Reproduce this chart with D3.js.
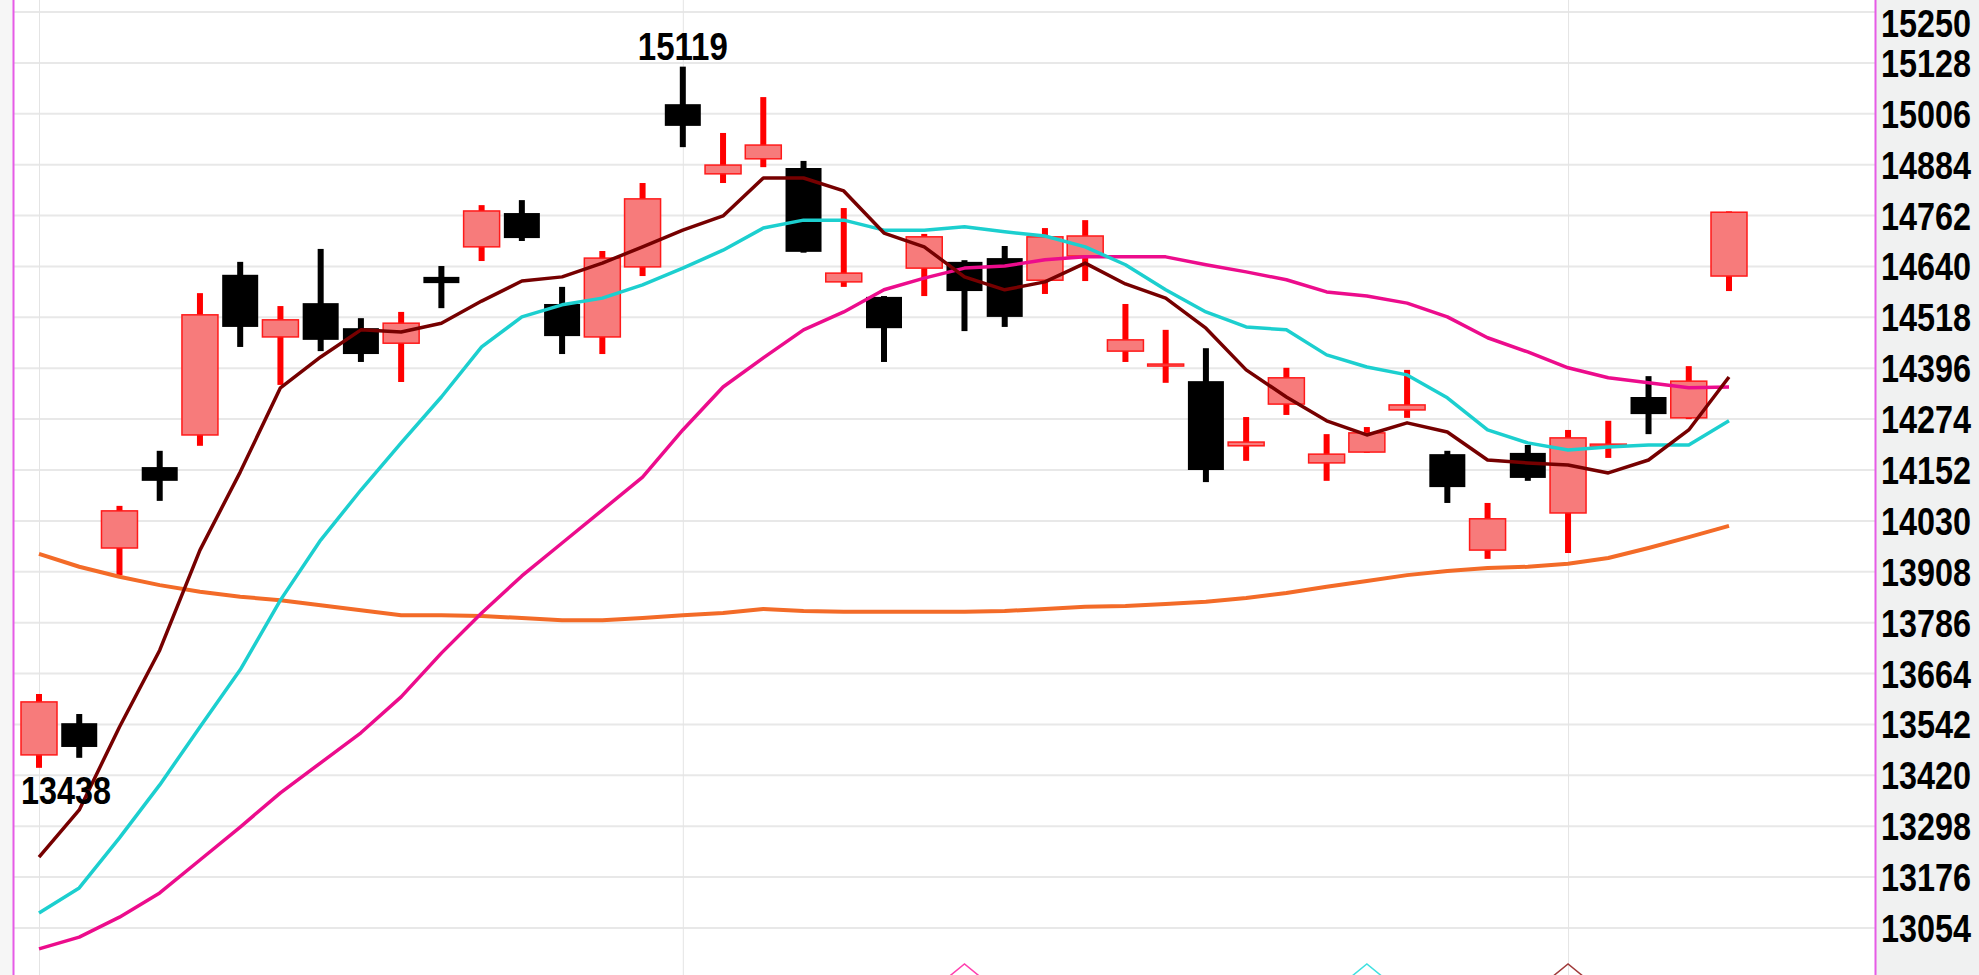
<!DOCTYPE html>
<html>
<head>
<meta charset="utf-8">
<script src="https://cdn.jsdelivr.net/npm/d3@7"></script>
<style>
  html, body { margin: 0; padding: 0; background: #fff; overflow: hidden; }
  svg { display: block; }
</style>
</head>
<body>
<svg id="chart"></svg>
<script>
const WIDTH = 1979;
const HEIGHT = 975;

// daily candles
const opens  = [13469,13545,13965,14159,14236,14620,14471,14552,14492,14456,14615,14687,14768,14550,14471,14639,15029,14862,14898,14876,14603,14567,14636,14651,14660,14607,14665,14437,14404,14365,14210,14310,14169,14195,14296,14190,13960,14193,14049,14210,14327,14277,14617];
const highs  = [13615,13567,14066,14198,14576,14651,14545,14682,14516,14531,14641,14787,14799,14591,14677,14840,15119,14960,15046,14893,14780,14569,14718,14655,14689,14732,14751,14550,14488,14444,14279,14397,14238,14255,14392,14198,14073,14212,14248,14270,14377,14401,14772];
const lows   = [13438,13462,13900,14078,14210,14447,14356,14437,14411,14363,14540,14653,14701,14430,14430,14617,14926,14840,14878,14673,14591,14411,14569,14485,14495,14574,14605,14411,14361,14123,14174,14284,14126,14193,14277,14073,13939,14126,13953,14181,14238,14274,14581];
const closes = [13596,13488,14054,14126,14524,14495,14512,14464,14430,14504,14600,14773,14708,14473,14660,14802,14977,14883,14931,14675,14624,14492,14711,14581,14519,14711,14713,14464,14406,14152,14219,14373,14190,14241,14308,14111,14035,14133,14229,14214,14286,14365,14770];

// moving averages (5 / 10 / 20 / 60)
const ma5  = [13224,13337,13536,13720,13960,14147,14349,14423,14488,14483,14504,14557,14605,14615,14648,14687,14727,14761,14852,14852,14821,14720,14687,14615,14584,14603,14648,14598,14564,14492,14392,14327,14270,14236,14265,14243,14176,14169,14164,14145,14176,14248,14375];
const ma10 = [13090,13150,13270,13397,13536,13673,13840,13984,14104,14217,14327,14447,14519,14548,14564,14596,14636,14679,14732,14751,14751,14727,14727,14735,14723,14713,14687,14644,14584,14531,14495,14488,14428,14399,14380,14325,14248,14217,14200,14207,14212,14212,14270];
const ma20 = [13004,13032,13080,13138,13217,13296,13378,13450,13522,13608,13713,13809,13898,13977,14056,14135,14248,14351,14421,14488,14531,14584,14612,14636,14641,14656,14663,14663,14663,14644,14627,14608,14579,14569,14552,14519,14469,14435,14397,14373,14361,14349,14351];
const ma60 = [13951,13920,13896,13876,13860,13848,13840,13828,13816,13804,13804,13802,13797,13792,13792,13797,13804,13809,13819,13814,13812,13812,13812,13812,13814,13819,13824,13826,13831,13836,13845,13857,13872,13886,13900,13910,13917,13920,13927,13941,13965,13991,14018];

const yTicks = [15250,15128,15006,14884,14762,14640,14518,14396,14274,14152,14030,13908,13786,13664,13542,13420,13298,13176,13054];
const monthStarts = [0, 16, 38];   // vertical separators (candle index)

// small cross markers at the bottom
const signalIdx   = [23, 33, 38];
const signalLine  = ['ma20', 'ma10', 'ma5'];

const COLORS = {
  up: { fill: '#f77b7b', stroke: '#ff1a1a', wick: '#ff0000' },
  down: '#000000',
  ma5: '#760000',
  ma10: '#1ccfcf',
  ma20: '#ec0c8c',
  ma60: '#f36b28',
  grid: '#e8e8e8',
  frame: '#e65be6',
  marker: { ma5: '#a03a3a', ma10: '#3fe0e0', ma20: '#ff3fae' }
};

const PLOT_LEFT = 14;
const PLOT_RIGHT = 1875;

const svg = d3.select('#chart')
  .attr('width', WIDTH)
  .attr('height', HEIGHT)
  .attr('viewBox', `0 0 ${WIDTH} ${HEIGHT}`);

const idx = d3.range(opens.length);
const x = d3.scaleLinear().domain([0, idx.length - 1]).range([39, 1729]);
const y = d3.scaleLinear().domain([13054, 15250]).range([928, 12]);

const step = x(1) - x(0);
const bodyW = Math.round(step * 0.9);
const wickW = 6;

// left strip + right axis panel
svg.append('rect').attr('x', 0).attr('y', 0).attr('width', PLOT_LEFT).attr('height', HEIGHT).attr('fill', '#f6f6f6');
svg.append('rect').attr('x', PLOT_RIGHT).attr('y', 0).attr('width', WIDTH - PLOT_RIGHT).attr('height', HEIGHT).attr('fill', '#f0f1f1');

svg.append('clipPath').attr('id', 'plot-clip')
  .append('rect').attr('x', PLOT_LEFT).attr('y', 0).attr('width', PLOT_RIGHT - PLOT_LEFT).attr('height', HEIGHT);

const g = svg.append('g').attr('clip-path', 'url(#plot-clip)');

//grid
g.append('g').selectAll('line')
  .data(yTicks)
  .enter().append('line')
  .attr('x1', PLOT_LEFT).attr('x2', PLOT_RIGHT)
  .attr('y1', d => y(d)).attr('y2', d => y(d))
  .attr('stroke', COLORS.grid).attr('stroke-width', 2);

g.append('g').selectAll('line')
  .data(monthStarts)
  .enter().append('line')
  .attr('x1', d => x(d) + 0.5).attr('x2', d => x(d) + 0.5)
  .attr('y1', 0).attr('y2', HEIGHT)
  .attr('stroke', '#e4e4e4').attr('stroke-width', 1);

// candles
const isUp = i => closes[i] >= opens[i];
const candles = g.append('g').selectAll('g.candle')
  .data(idx)
  .enter().append('g').attr('class', 'candle');

candles.append('rect')
  .attr('x', i => x(i) - wickW / 2)
  .attr('y', i => y(highs[i]))
  .attr('width', wickW)
  .attr('height', i => Math.max(1, y(lows[i]) - y(highs[i])))
  .attr('fill', i => isUp(i) ? COLORS.up.wick : COLORS.down);

candles.append('rect')
  .attr('x', i => x(i) - bodyW / 2)
  .attr('y', i => y(Math.max(opens[i], closes[i])))
  .attr('width', bodyW)
  .attr('height', i => Math.max(2, Math.abs(y(opens[i]) - y(closes[i]))))
  .attr('fill', i => isUp(i) ? COLORS.up.fill : COLORS.down)
  .attr('stroke', i => isUp(i) ? COLORS.up.stroke : 'none')
  .attr('stroke-width', 1.5);

// moving average lines
const maSeries = [
  { key: 'ma60', values: ma60, width: 4 },
  { key: 'ma20', values: ma20, width: 3.5 },
  { key: 'ma10', values: ma10, width: 3.5 },
  { key: 'ma5',  values: ma5,  width: 3.5 }
];
const lineGen = d3.line().x((d, i) => x(i)).y(d => y(d));
g.append('g').selectAll('path')
  .data(maSeries)
  .enter().append('path')
  .attr('d', d => lineGen(d.values))
  .attr('fill', 'none')
  .attr('stroke', d => COLORS[d.key])
  .attr('stroke-width', d => d.width)
  .attr('stroke-linejoin', 'round');

// bottom markers
g.append('g').selectAll('path')
  .data(signalIdx)
  .enter().append('path')
  .attr('d', (d) => `M${x(d) - 16},${HEIGHT + 2}L${x(d)},${HEIGHT - 11}L${x(d) + 16},${HEIGHT + 2}`)
  .attr('fill', 'none')
  .attr('stroke', (d, i) => COLORS.marker[signalLine[i]])
  .attr('stroke-width', 1.5);

// frame lines
svg.append('line').attr('x1', PLOT_LEFT - 0.5).attr('x2', PLOT_LEFT - 0.5).attr('y1', 0).attr('y2', HEIGHT)
  .attr('stroke', COLORS.frame).attr('stroke-width', 2);
svg.append('line').attr('x1', PLOT_RIGHT + 0.5).attr('x2', PLOT_RIGHT + 0.5).attr('y1', 0).attr('y2', HEIGHT)
  .attr('stroke', COLORS.frame).attr('stroke-width', 2);

// labels: tall, narrow, bold digits (normal-width bold font stretched vertically)
const FONT = '"Liberation Sans", Arial, sans-serif';
function tallText(sel, px, py, anchor) {
  return sel
    .attr('transform', `translate(${px},${py}) scale(1,1.2)`)
    .attr('x', 0).attr('y', 0)
    .attr('text-anchor', anchor || 'start')
    .attr('font-family', FONT)
    .attr('font-weight', 'bold')
    .attr('font-size', 32)
    .attr('textLength', 90)
    .attr('lengthAdjust', 'spacingAndGlyphs')
    .attr('fill', '#000');
}

// keep the top label fully inside the picture
svg.append('g').selectAll('text')
  .data(yTicks)
  .enter().append('text')
  .text(d => d)
  .each(function (d) { tallText(d3.select(this), 1881, Math.max(37, y(d) + 14)); });

// highest / lowest annotations
const hiIdx = d3.maxIndex(highs);
const loIdx = d3.minIndex(lows);
svg.append('text')
  .text(highs[hiIdx])
  .call(tallText, x(hiIdx), y(highs[hiIdx]) - 7, 'middle');
svg.append('text')
  .text(lows[loIdx])
  .call(tallText, x(loIdx) - bodyW / 2, y(lows[loIdx]) + 36);
</script>
</body>
</html>
